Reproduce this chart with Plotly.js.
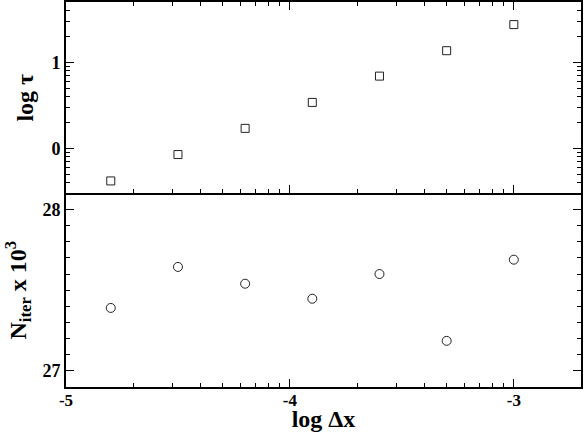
<!DOCTYPE html>
<html>
<head>
<meta charset="utf-8">
<script src="https://cdn.plot.ly/plotly-3.0.1.min.js"></script>
<style>html,body{margin:0;padding:0;background:#fff;}#chart{width:584px;height:432px;}</style>
</head>
<body>
<div id="chart"></div>
<script>
// Data
var logDx = [-4.8, -4.5, -4.2, -3.9, -3.6, -3.3, -3.0];
var logTau = [-0.376, -0.07, 0.234, 0.535, 0.84, 1.135, 1.438];
var nIter = [27.39, 27.644, 27.54, 27.447, 27.60, 27.186, 27.689];

var xTickVals = [-5, -4, -3];
var xTickText = ['-5', '-4', '-3'];
var tauTickVals = [0, 1];
var tauTickText = ['0', '1'];
var nTickVals = [27, 28];
var nTickText = ['27', '28'];

// log-style minor ticks within each unit (as in the original)
function logMinor(decades) {
  var out = [];
  decades.forEach(function (d) {
    for (var k = 2; k <= 9; k++) out.push(d + Math.log10(k));
  });
  return out;
}

var fontFam = '"Liberation Serif", "Times New Roman", serif';
var tickFont = {family: fontFam, size: 18, color: '#000', weight: 'bold'};
var xTickFont = {family: fontFam, size: 17, color: '#000', weight: 'bold'};
var titleFont = {family: fontFam, size: 24, color: '#000', weight: 'bold'};

var traces = [
  {x: logDx, y: logTau, xaxis: 'x2', yaxis: 'y2', mode: 'markers', type: 'scatter',
   marker: {symbol: 'square-open', size: 8, color: '#222', line: {width: 1, color: '#222'}}},
  {x: logDx, y: nIter, xaxis: 'x', yaxis: 'y', mode: 'markers', type: 'scatter',
   marker: {symbol: 'circle-open', size: 9, color: '#222', line: {width: 1, color: '#222'}}}
];

var xRange = [-5, -2.7];
var common = {
  showgrid: false, zeroline: false, showline: true, linecolor: '#000', linewidth: 2,
  ticks: 'inside', ticklen: 8, tickwidth: 1, tickcolor: '#000', tickfont: tickFont
};
function ax(extra) { return Object.assign({}, common, extra); }

var layout = {
  width: 584, height: 432,
  margin: {l: 66, r: 3, t: 2, b: 45},
  paper_bgcolor: '#fff', plot_bgcolor: '#fff',
  showlegend: false,
  xaxis: ax({
    domain: [0, 1], range: xRange, anchor: 'y', mirror: false,
    tickmode: 'array', tickvals: xTickVals, ticktext: xTickText,
    tickfont: xTickFont, ticklabelstandoff: -3,
    minor: {tickmode: 'array', tickvals: logMinor([-5, -4, -3]), ticks: 'inside', ticklen: 4, tickwidth: 1, tickcolor: '#000'},
    title: {text: 'log \u0394x', font: titleFont, standoff: 4}
  }),
  yaxis: ax({
    domain: [0, 0.503], range: [26.9, 28.1], anchor: 'x', mirror: 'ticks',
    tickmode: 'array', tickvals: nTickVals, ticktext: nTickText,
    minor: {dtick: 0.1, tick0: 27, ticks: 'inside', ticklen: 4, tickwidth: 1, tickcolor: '#000'},
    title: {text: 'N<sub>iter</sub> x 10<sup>3</sup>', font: titleFont, standoff: 9}
  }),
  xaxis2: ax({
    domain: [0, 1], range: xRange, anchor: 'y2', mirror: 'ticks', matches: 'x',
    showticklabels: false,
    tickmode: 'array', tickvals: xTickVals,
    minor: {tickmode: 'array', tickvals: logMinor([-5, -4, -3]), ticks: 'inside', ticklen: 4, tickwidth: 1, tickcolor: '#000'}
  }),
  yaxis2: ax({
    domain: [0.503, 1], range: [-0.52, 1.7], anchor: 'x2', mirror: 'ticks',
    tickmode: 'array', tickvals: tauTickVals, ticktext: tauTickText,
    minor: {tickmode: 'array', tickvals: logMinor([-1, 0, 1]), ticks: 'inside', ticklen: 4, tickwidth: 1, tickcolor: '#000'},
    title: {text: 'log \u03c4', font: titleFont, standoff: 11}
  })
};

Plotly.newPlot('chart', traces, layout, {displayModeBar: false, staticPlot: true});
</script>
</body>
</html>
